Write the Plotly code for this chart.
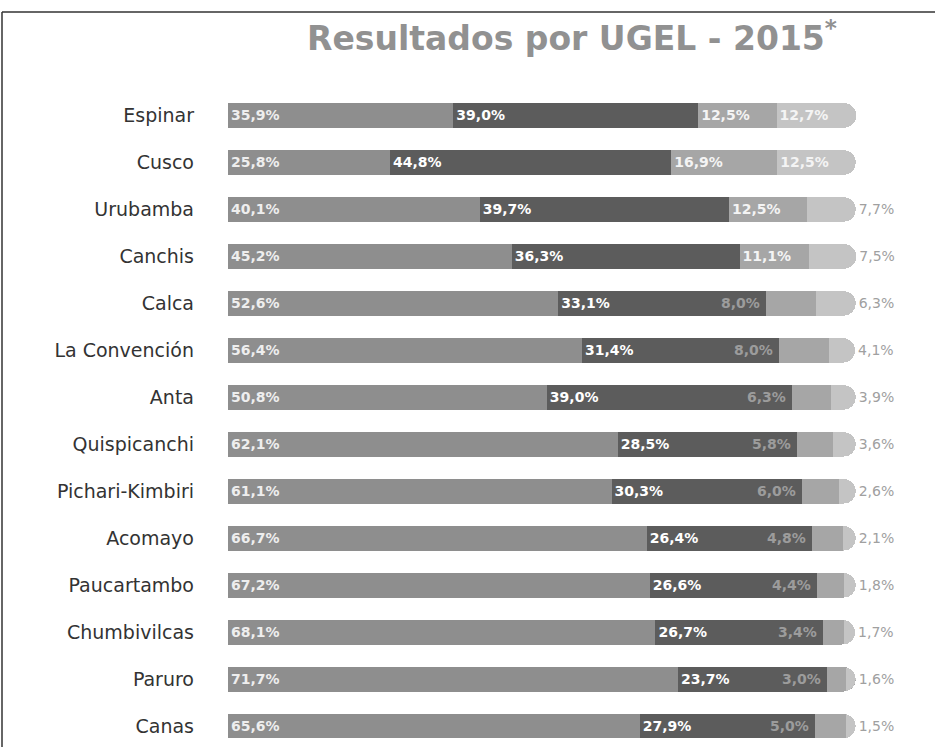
import plotly.graph_objects as go

# UGEL results, 2015 — share of students per achievement level (%)
ugel = ["Espinar", "Cusco", "Urubamba", "Canchis", "Calca", "La Convención", "Anta",
        "Quispicanchi", "Pichari-Kimbiri", "Acomayo", "Paucartambo", "Chumbivilcas",
        "Paruro", "Canas"]
nivel_1 = [35.9, 25.8, 40.1, 45.2, 52.6, 56.4, 50.8, 62.1, 61.1, 66.7, 67.2, 68.1, 71.7, 65.6]
nivel_2 = [39.0, 44.8, 39.7, 36.3, 33.1, 31.4, 39.0, 28.5, 30.3, 26.4, 26.6, 26.7, 23.7, 27.9]
nivel_3 = [12.5, 16.9, 12.5, 11.1, 8.0, 8.0, 6.3, 5.8, 6.0, 4.8, 4.4, 3.4, 3.0, 5.0]
nivel_4 = [12.7, 12.5, 7.7, 7.5, 6.3, 4.1, 3.9, 3.6, 2.6, 2.1, 1.8, 1.7, 1.6, 1.5]

colors = ["#8e8e8e", "#5c5c5c", "#a6a6a6", "#c4c4c4"]

W, H = 935, 747
ML, MR, MT, MB = 228, 4, 92, 1


def pct(v):
    return f"{v:.1f}".replace(".", ",") + "%"


label_font = dict(family="DejaVu Sans", size=14, color="white", weight="bold")

fig = go.Figure()

fig.add_trace(go.Bar(
    y=ugel, x=nivel_1, orientation="h", marker=dict(color=colors[0], line_width=0),
    text=[pct(v) for v in nivel_1], textposition="inside", insidetextanchor="start",
    textfont=dict(label_font, color="#eeeeee"), constraintext="none", hoverinfo="skip",
))
fig.add_trace(go.Bar(
    y=ugel, x=nivel_2, orientation="h", marker=dict(color=colors[1], line_width=0),
    text=[pct(v) for v in nivel_2], textposition="inside", insidetextanchor="start",
    textfont=label_font, constraintext="none", hoverinfo="skip",
))

# level 3: label inside when the segment is wide enough, else placed just before it
big3 = [v >= 10 for v in nivel_3]
fig.add_trace(go.Bar(
    y=ugel, x=nivel_3, orientation="h", marker=dict(color=colors[2], line_width=0),
    text=[pct(v) for v in nivel_3],
    textposition=["inside" if b else "none" for b in big3], insidetextanchor="start",
    textfont=dict(label_font, color="#f4f4f4"), constraintext="none", hoverinfo="skip",
))

# level 4: inside when wide, outside the bar end otherwise
big4 = [v >= 10 for v in nivel_4]
fig.add_trace(go.Bar(
    y=ugel, x=nivel_4, orientation="h", marker=dict(color=colors[3], line_width=0),
    text=[pct(v) for v in nivel_4],
    textposition=["inside" if b else "outside" for b in big4], insidetextanchor="start",
    insidetextfont=dict(label_font, color="#f4f4f4"),
    outsidetextfont=dict(family="DejaVu Sans", size=14, color="#a0a0a0"),
    constraintext="none", cliponaxis=False, hoverinfo="skip",
))

annotations = []
for name, a, b, c, big in zip(ugel, nivel_1, nivel_2, nivel_3, big3):
    if not big:
        annotations.append(dict(
            x=a + b, y=name, xref="x", yref="y", text=pct(c), showarrow=False,
            xanchor="right", xshift=-4, yanchor="middle",
            font=dict(family="DejaVu Sans", size=14, color="#9c9c9c", weight="bold"),
        ))

# frame lines (left and top) in pixel positions converted to paper coordinates
pw, ph = W - ML - MR, H - MT - MB
def px_x(p):
    return (p - ML) / pw
def px_y(p):
    return 1 - (p - MT) / ph

shapes = [
    dict(type="line", xref="paper", yref="paper", x0=px_x(2), x1=px_x(2),
         y0=px_y(12), y1=px_y(H + 5), line=dict(color="#333", width=1.5)),
    dict(type="line", xref="paper", yref="paper", x0=px_x(2), x1=px_x(W + 5),
         y0=px_y(12), y1=px_y(12), line=dict(color="#333", width=1.5)),
]

fig.update_layout(
    width=W, height=H,
    margin=dict(l=ML, r=MR, t=MT, b=MB, pad=0),
    paper_bgcolor="white", plot_bgcolor="white",
    barmode="stack", bargap=0.48, barcornerradius=12,
    showlegend=False,
    title=dict(
        text="Resultados por UGEL - 2015<sup>*</sup>",
        x=572 / W, xref="container", xanchor="center",
        y=1 - 38 / H, yref="container", yanchor="middle",
        font=dict(family="DejaVu Sans", size=33, color="#919191", weight="bold"),
    ),
    xaxis=dict(range=[0, 112], visible=False, fixedrange=True),
    yaxis=dict(range=[13.42, -0.5], showgrid=False, zeroline=False, showline=False,
               ticks="", ticklabelstandoff=33,
               tickfont=dict(family="DejaVu Sans", size=19, color="#333")),
    annotations=annotations,
    shapes=shapes,
)

fig.write_html("out.html")
